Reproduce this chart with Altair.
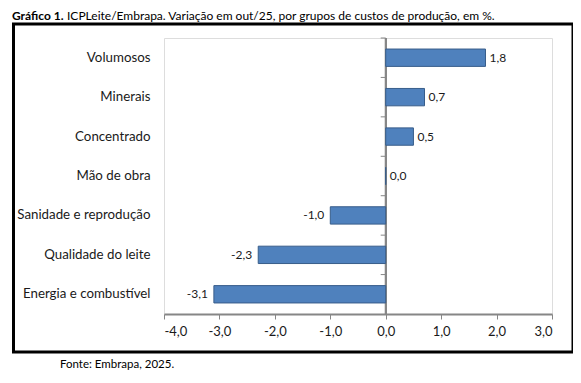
import altair as alt
import pandas as pd

categories = ["Volumosos", "Minerais", "Concentrado", "Mão de obra",
              "Sanidade e reprodução", "Qualidade do leite", "Energia e combustível"]
values = [1.8, 0.7, 0.5, 0.0, -1.0, -2.3, -3.1]
x_ticks = [-4, -3, -2, -1, 0, 1, 2, 3]
title_bold = ["Gráfico 1."]
title_rest = ["ICPLeite/Embrapa. Variação em out/25, por grupos de custos de produção, em %."]
source_note = ["Fonte: Embrapa, 2025."]

FONT = "Lato"
TXT = "#1a1a1a"
W, H = 388, 276
STEP = H / len(categories)

df = pd.DataFrame({"cat": categories, "val": values})

num_fmt = "replace(replace(format(datum.val, '.1f'), '.', ','), '\u2212', '-')"
axis_fmt = "replace(replace(format(datum.value, '.1f'), '.', ','), '\u2212', '-')"

xscale = alt.Scale(domain=[-4, 3], nice=False)
yscale = alt.Scale(domain=categories, paddingInner=0.56, paddingOuter=0.28)

x_enc = alt.X("val:Q", scale=xscale,
              axis=alt.Axis(values=x_ticks, labelExpr=axis_fmt, title=None, grid=False,
                            domainColor="#868686", domainWidth=2, tickColor="#868686",
                            tickSize=5, tickWidth=1, labelPadding=6, labelFontSize=13,
                            labelFont=FONT, labelColor=TXT))
y_enc = alt.Y("cat:N", sort=categories, scale=yscale,
              axis=alt.Axis(title=None, domain=False, ticks=False, labelPadding=14,
                            labelFontSize=13.3, labelFont=FONT, labelColor=TXT))

base = alt.Chart(df)

bars = base.mark_bar(color="#4F81BD", stroke="#385D8A", strokeWidth=1).encode(
    x=x_enc, x2=alt.datum(0), y=y_enc)

zero_line = base.mark_rule(color="#868686", strokeWidth=1.5).encode(x=alt.datum(0))

zero_ticks = base.mark_rule(color="#868686", strokeWidth=1, x2Offset=-5,
                            yOffset=-STEP / 2).encode(
    x=alt.datum(0), x2=alt.datum(0), y=alt.Y("cat:N", sort=categories))

lab_pos = base.transform_filter("datum.val >= 0").transform_calculate(
    lab=num_fmt).mark_text(align="left", baseline="middle", dx=4, font=FONT,
                          fontSize=12, color=TXT).encode(x="val:Q", y=alt.Y("cat:N", sort=categories), text="lab:N")
lab_neg = base.transform_filter("datum.val < 0").transform_calculate(
    lab=num_fmt).mark_text(align="right", baseline="middle", dx=-6, font=FONT,
                          fontSize=12, color=TXT).encode(x="val:Q", y=alt.Y("cat:N", sort=categories), text="lab:N")

one = pd.DataFrame({"k": [0]})
box = alt.Chart(one).mark_rect(fill=None, fillOpacity=0, stroke="black", strokeWidth=3).encode(
    x=alt.value(-150.5), x2=alt.value(409), y=alt.value(-14), y2=alt.value(314))

t1 = alt.Chart(pd.DataFrame({"t": title_bold})).mark_text(
    align="left", baseline="alphabetic", font=FONT, fontSize=12, fontWeight="bold", color="black").encode(
    x=alt.value(-152), y=alt.value(-18), text="t:N")
t2 = alt.Chart(pd.DataFrame({"t": title_rest})).mark_text(
    align="left", baseline="alphabetic", font=FONT, fontSize=12, color="black").encode(
    x=alt.value(-97), y=alt.value(-18), text="t:N")
foot = alt.Chart(pd.DataFrame({"t": source_note})).mark_text(
    align="left", baseline="alphabetic", font=FONT, fontSize=11.5, color="black").encode(
    x=alt.value(-104), y=alt.value(330), text="t:N")

chart = alt.layer(zero_line, zero_ticks, bars, lab_pos, lab_neg, box, t1, t2, foot).properties(
    width=W, height=H,
    autosize=alt.AutoSizeParams(type="none"),
    padding={"left": 156, "top": 30, "right": 21, "bottom": 58},
).configure_view(stroke="#9BB2CE", strokeWidth=1).configure(background="white")

chart.save("out.html", embed_options={"renderer": "svg", "actions": False})
